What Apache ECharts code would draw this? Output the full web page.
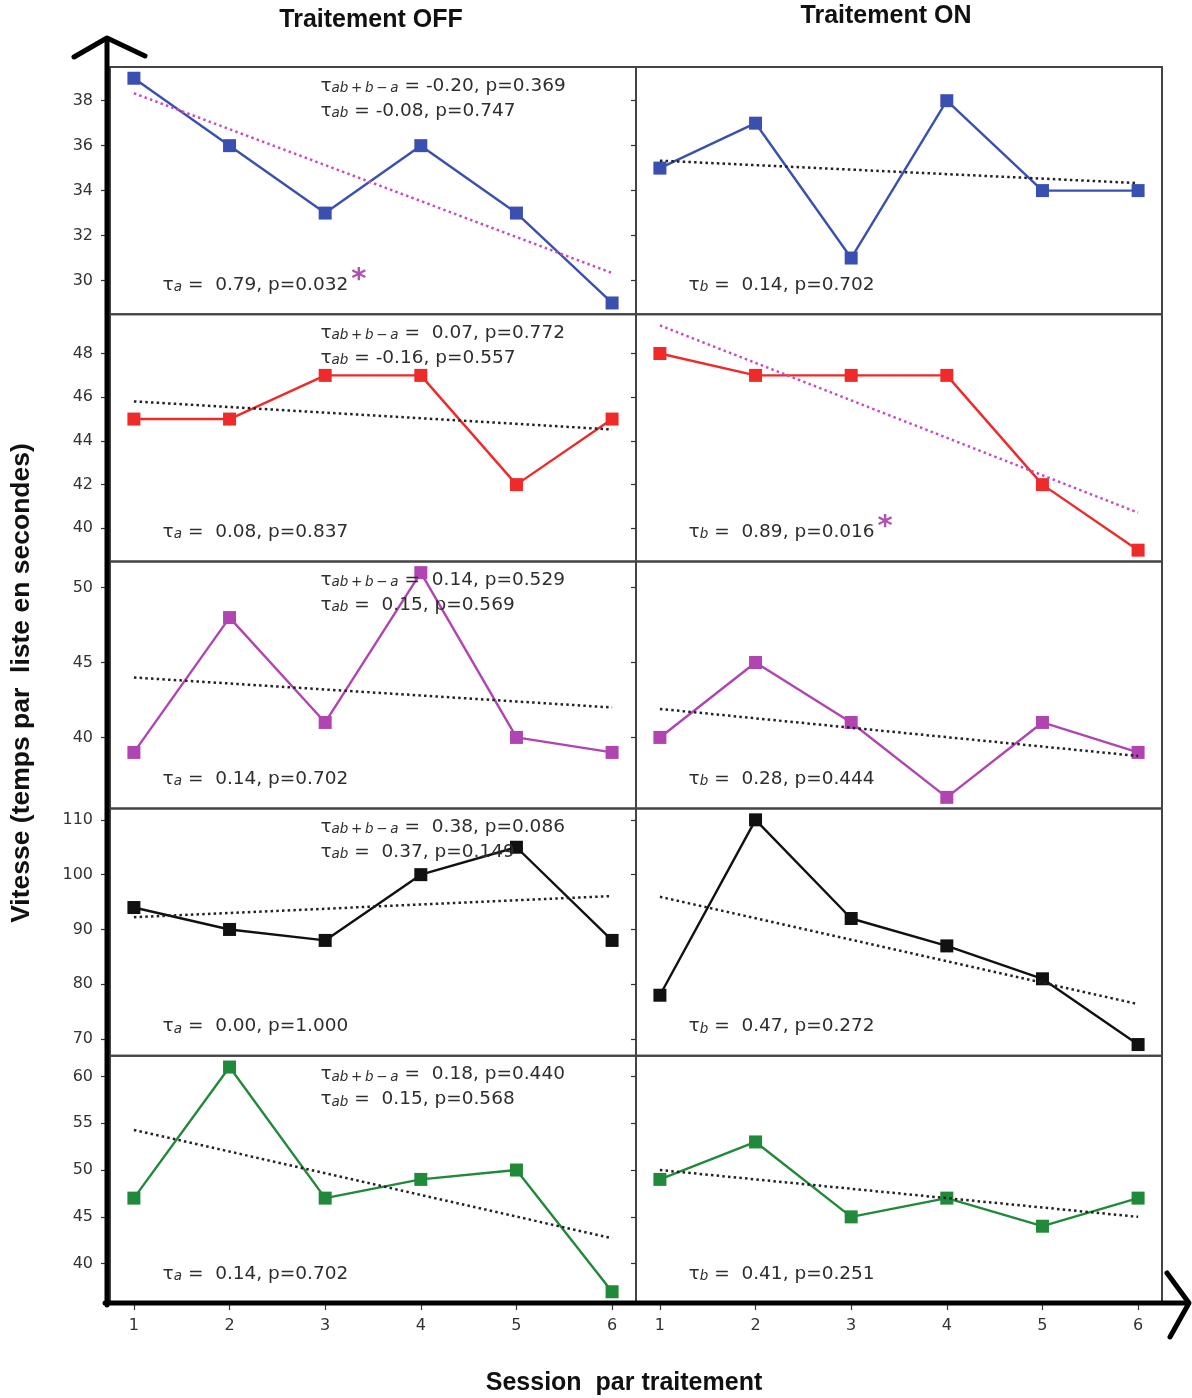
<!DOCTYPE html>
<html>
<head>
<meta charset="utf-8">
<script src="https://cdn.jsdelivr.net/npm/echarts@6/dist/echarts.min.js"></script>
<style>
  html, body { margin: 0; padding: 0; background: #fff; }
  #chart { width: 1192px; height: 1398px; }
</style>
</head>
<body>
<div id="chart"></div>
<script>
// Sessions per treatment (x axis)
const sessions = [1, 2, 3, 4, 5, 6];

// Speed (seconds per list), treatment OFF (a) and ON (b), one pair per list
const offBlue   = [39, 36, 33, 36, 33, 29];
const onBlue    = [35, 37, 31, 38, 34, 34];
const offRed    = [45, 45, 47, 47, 42, 45];
const onRed     = [48, 47, 47, 47, 42, 39];
const offPurple = [39, 48, 41, 51, 40, 39];
const onPurple  = [40, 45, 41, 36, 41, 39];
const offBlack  = [94, 90, 88, 100, 105, 88];
const onBlack   = [78, 110, 92, 87, 81, 69];
const offGreen  = [47, 61, 47, 49, 50, 37];
const onGreen   = [49, 53, 45, 47, 44, 47];

const rowColors = ['#3a50b0', '#ee2a2a', '#b044b0', '#111111', '#20893a'];

// y tick labels for each row (shared by both panels of a row)
const yTicks = [
  [30, 32, 34, 36, 38],
  [40, 42, 44, 46, 48],
  [40, 45, 50],
  [70, 80, 90, 100, 110],
  [40, 45, 50, 55, 60]
];

// Kendall tau statistics per row
const tauA    = [0.79, 0.08, 0.14, 0.00, 0.14];
const pA      = [0.032, 0.837, 0.702, 1.000, 0.702];
const tauB    = [0.14, 0.89, 0.28, 0.47, 0.41];
const pB      = [0.702, 0.016, 0.444, 0.272, 0.251];
const tauABBA = [-0.20, 0.07, 0.14, 0.38, 0.18];
const pABBA   = [0.369, 0.772, 0.529, 0.086, 0.440];
const tauAB   = [-0.08, -0.16, 0.15, 0.37, 0.15];
const pAB     = [0.747, 0.557, 0.569, 0.149, 0.568];

const colTitles = ['Traitement OFF', 'Traitement ON'];
const yTitle = 'Vitesse (temps par  liste en secondes)';
const xTitle = 'Session  par traitement';

const offRows = [offBlue, offRed, offPurple, offBlack, offGreen];
const onRows  = [onBlue, onRed, onPurple, onBlack, onGreen];

// ---- layout ----
const PL = 110, PW = 526, PT = 67, PH = 247.2;
const SIG_COLOR = '#c84cc0';
const STAR_COLOR = '#b050b0';
const TEXT_COLOR = '#2e2e2e';
const FONT = '"DejaVu Sans", sans-serif';

// least-squares trend line through a panel's points
function fitLine(ys) {
  const n = ys.length;
  const mx = sessions.reduce((s, v) => s + v, 0) / n;
  const my = ys.reduce((s, v) => s + v, 0) / n;
  let sxy = 0, sxx = 0;
  sessions.forEach((x, i) => { sxy += (x - mx) * (ys[i] - my); sxx += (x - mx) * (x - mx); });
  const b = sxy / sxx;
  return x => my + b * (x - mx);
}

function fmt(v) { return (v >= 0 ? ' ' : '') + v.toFixed(2); }

const richStyles = {
  m:  { fontSize: 18.5, fontFamily: FONT, lineHeight: 22, verticalAlign: 'bottom', fill: TEXT_COLOR, color: TEXT_COLOR },
  s:  { fontSize: 13.5, fontStyle: 'italic', fontFamily: FONT, lineHeight: 10, verticalAlign: 'bottom', fill: TEXT_COLOR, color: TEXT_COLOR },
  st: { fontSize: 29, fontWeight: 'bold', fontFamily: FONT, lineHeight: 31, verticalAlign: 'bottom', fill: STAR_COLOR, color: STAR_COLOR }
};

function statText(x, baseline, text) {
  return {
    type: 'text', x: x, y: baseline + 4.8, silent: true, z: 50,
    style: { text: text, rich: richStyles, align: 'left', textAlign: 'left', verticalAlign: 'bottom', textVerticalAlign: 'bottom' }
  };
}

const grids = [], xAxes = [], yAxes = [], series = [], graphics = [];
const first = sessions[0], last = sessions[sessions.length - 1];

for (let r = 0; r < 5; r++) {
  const panels = [offRows[r], onRows[r]];
  const lines = panels.map(fitLine);
  const sig = [pA[r] < 0.05, pB[r] < 0.05];
  const all = panels[0].concat(panels[1], lines.flatMap(f => [f(first), f(last)]));
  const lo = Math.min(...all), hi = Math.max(...all), pad = (hi - lo) * 0.05;
  const color = rowColors[r];

  for (let c = 0; c < 2; c++) {
    const k = grids.length;
    const gx = PL + c * PW, gy = PT + r * PH;
    const bottomRow = r === 4;
    grids.push({
      left: gx, top: gy, width: PW, height: PH,
      show: true, borderColor: '#444', borderWidth: 2, backgroundColor: 'transparent',
      containLabel: false, outerBoundsMode: 'none'
    });
    xAxes.push({
      type: 'value', gridIndex: k, min: 0.75, max: 6.25,
      axisLine: { show: false }, splitLine: { show: false },
      axisTick: { show: bottomRow, length: 7, lineStyle: { color: '#333', width: 1.2 }, customValues: sessions },
      axisLabel: { show: bottomRow, margin: 15, fontSize: 16, fontFamily: FONT, color: '#333', customValues: sessions }
    });
    yAxes.push({
      type: 'value', gridIndex: k, min: lo - pad, max: hi + pad,
      axisLine: { show: false }, splitLine: { show: false },
      axisTick: { show: true, length: c === 0 ? 9 : 5, lineStyle: { color: '#333', width: 1.2 }, customValues: yTicks[r] },
      axisLabel: { show: c === 0, margin: 17, fontSize: 16, fontFamily: FONT, color: '#333', customValues: yTicks[r] }
    });
    series.push({
      type: 'line', xAxisIndex: k, yAxisIndex: k, silent: true, clip: false, z: 3,
      data: sessions.map((s, i) => [s, panels[c][i]]),
      symbol: 'rect', symbolSize: 13,
      lineStyle: { width: 2.4, color: color }, itemStyle: { color: color }
    });
    series.push({
      type: 'line', xAxisIndex: k, yAxisIndex: k, silent: true, clip: false, z: 4,
      data: [[first, lines[c](first)], [last, lines[c](last)]],
      symbol: 'none',
      lineStyle: { width: 2.5, type: [2.5, 3.2], color: sig[c] ? SIG_COLOR : '#222' }
    });

    // statistics text
    const tau = c === 0 ? tauA[r] : tauB[r];
    const p = c === 0 ? pA[r] : pB[r];
    const sub = c === 0 ? 'a' : 'b';
    let txt = '{m|τ}{s|' + sub + '}{m| = ' + fmt(tau) + ', p=' + p.toFixed(3) + '}';
    if (p < 0.05) txt += '{st|\u200A*}';
    graphics.push(statText(gx + 0.1 * PW, gy + PH - 24.5, txt));
    if (c === 0) {
      graphics.push(statText(gx + 0.4 * PW, gy + 23.5,
        '{m|τ}{s|ab\u2009+\u2009b\u2009\u2212\u2009a}{m| = ' + fmt(tauABBA[r]) + ', p=' + pABBA[r].toFixed(3) + '}'));
      graphics.push(statText(gx + 0.4 * PW, gy + 48.5,
        '{m|τ}{s|ab}{m| = ' + fmt(tauAB[r]) + ', p=' + pAB[r].toFixed(3) + '}'));
    }
  }
}

// big hand-drawn style axes with open arrowheads
const arrowStyle = { stroke: '#000', lineWidth: 5, fill: null, lineCap: 'round', lineJoin: 'round' };
graphics.push(
  { type: 'polyline', z: 60, silent: true, shape: { points: [[107, 1305], [107, 39]] }, style: arrowStyle },
  { type: 'polyline', z: 60, silent: true, shape: { points: [[74, 57], [107, 38], [145, 56]] }, style: arrowStyle },
  { type: 'polyline', z: 60, silent: true, shape: { points: [[105, 1303], [1188, 1303]] }, style: arrowStyle },
  { type: 'polyline', z: 60, silent: true, shape: { points: [[1167, 1273], [1189, 1303], [1170, 1337]] }, style: arrowStyle }
);

// titles
const titleFont = 'bold 25px "Liberation Sans", Arial, sans-serif';
const yTitleFont = 'bold 26.5px "Liberation Sans", Arial, sans-serif';
graphics.push(
  { type: 'text', x: 371, y: 20, silent: true, style: { text: colTitles[0], font: titleFont, fill: '#111', align: 'center', textAlign: 'center', verticalAlign: 'middle', textVerticalAlign: 'middle' } },
  { type: 'text', x: 886, y: 16, silent: true, style: { text: colTitles[1], font: titleFont, fill: '#111', align: 'center', textAlign: 'center', verticalAlign: 'middle', textVerticalAlign: 'middle' } },
  { type: 'text', x: 624, y: 1383, silent: true, style: { text: xTitle, font: titleFont, fill: '#111', align: 'center', textAlign: 'center', verticalAlign: 'middle', textVerticalAlign: 'middle' } },
  { type: 'text', x: 22, y: 683, rotation: Math.PI / 2, silent: true, style: { text: yTitle, font: yTitleFont, fill: '#111', align: 'center', textAlign: 'center', verticalAlign: 'middle', textVerticalAlign: 'middle' } }
);

const chart = echarts.init(document.getElementById('chart'), null, { renderer: 'canvas' });
chart.setOption({
  animation: false,
  backgroundColor: '#fff',
  grid: grids,
  xAxis: xAxes,
  yAxis: yAxes,
  series: series,
  graphic: { elements: graphics }
});
</script>
</body>
</html>
